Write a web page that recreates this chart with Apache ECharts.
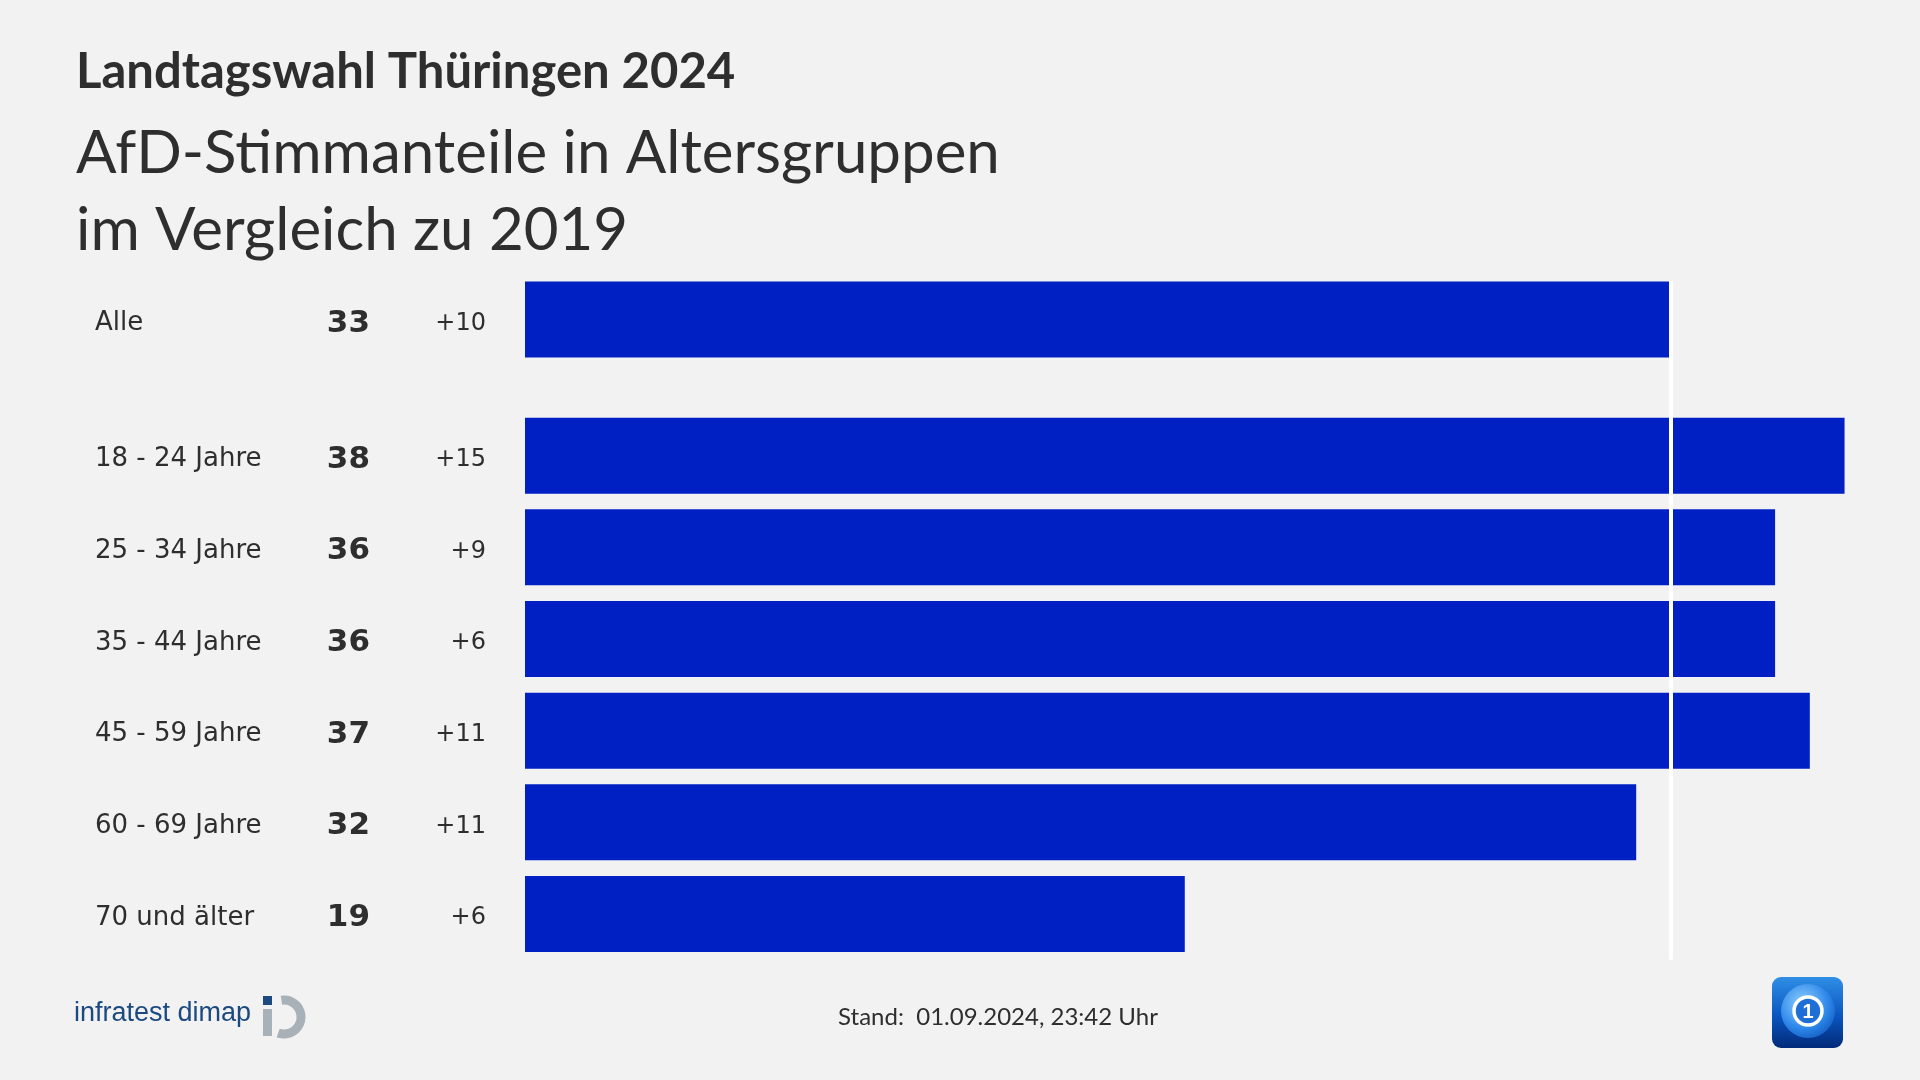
<!DOCTYPE html>
<html><head><meta charset="utf-8">
<script src="https://cdn.jsdelivr.net/npm/echarts@6/dist/echarts.min.js"></script>
<style>html,body{margin:0;padding:0;background:#f2f2f2;}#c{width:1920px;height:1080px;}</style>
</head><body><div id="c"></div>
<script>
// ---- data ----
const allLabels = ['Alle'];
const allValues = [33];
const allDeltas = ['+10'];
const groupLabels = ['18 - 24 Jahre', '25 - 34 Jahre', '35 - 44 Jahre', '45 - 59 Jahre', '60 - 69 Jahre', '70 und älter'];
const groupValues = [38, 36, 36, 37, 32, 19];
const groupDeltas = ['+15', '+9', '+6', '+11', '+11', '+6'];
const referenceValue = 33;
const axisMax = 40;

const titleText = 'Landtagswahl Thüringen 2024';
const subtitleLines = ['AfD-Stimmanteile in Altersgruppen', 'im Vergleich zu 2019'];
const footerText = 'Stand:  01.09.2024, 23:42 Uhr';
const sourceText = 'infratest dimap';

// ---- styles ----
const BAR = '#0020c4';
const TXT = '#2e2e2e';
const BG = '#f2f2f2';
const LABEL_FONT = "'DejaVu Sans', sans-serif";
const TITLE_FONT = "Lato, 'Open Sans', sans-serif";

// build category lists (group grid has a leading spacer band)
const groupCats = [''].concat(groupLabels);
const groupData = [null].concat(groupValues);

function richLabel(labels, values, deltas) {
  return function (val) {
    if (!val) return '';
    const i = labels.indexOf(val);
    return '{l|' + labels[i] + '}{v|' + values[i] + '}{d|' + deltas[i] + '}';
  };
}
const rich = {
  l: { width: 234, align: 'left', fontFamily: LABEL_FONT, fontSize: 26, color: TXT, padding: [8, 0, 0, 0] },
  v: { width: 41, align: 'right', fontFamily: LABEL_FONT, fontSize: 31, fontWeight: 'bold', color: TXT, padding: [8, 0, 0, 0] },
  d: { width: 116, align: 'right', fontFamily: LABEL_FONT, fontSize: 24, color: TXT, padding: [8, 0, 0, 0] }
};

function yAxisFor(gridIndex, cats, labels, values, deltas) {
  return {
    type: 'category', gridIndex: gridIndex, inverse: true, data: cats,
    axisLine: { show: false }, axisTick: { show: false }, splitLine: { show: false },
    axisLabel: { show: true, align: 'left', margin: 430, formatter: richLabel(labels, values, deltas), rich: rich }
  };
}
function xAxisFor(gridIndex) {
  return { type: 'value', gridIndex: gridIndex, min: 0, max: axisMax, show: false, splitLine: { show: false } };
}
const refLine = {
  silent: true, symbol: 'none', z: 10,
  label: { show: false },
  lineStyle: { color: '#ffffff', width: 4, type: 'solid' },
  emphasis: { disabled: true },
  data: [{ xAxis: referenceValue }]
};

const chart = echarts.init(document.getElementById('c'), null, { renderer: 'canvas' });
chart.setOption({
  backgroundColor: BG,
  animation: false,
  grid: [
    { left: 525, width: 1389, top: 281, height: 77 },
    { left: 525, width: 1389, top: 318.2, height: 641.6 }
  ],
  xAxis: [xAxisFor(0), xAxisFor(1)],
  yAxis: [
    yAxisFor(0, allLabels, allLabels, allValues, allDeltas),
    yAxisFor(1, groupCats, groupLabels, groupValues, groupDeltas)
  ],
  series: [
    { type: 'bar', xAxisIndex: 0, yAxisIndex: 0, data: allValues, barWidth: 76,
      itemStyle: { color: BAR }, silent: true, markLine: refLine },
    { type: 'bar', xAxisIndex: 1, yAxisIndex: 1, data: groupData, barWidth: 76,
      itemStyle: { color: BAR }, silent: true, markLine: refLine }
  ],
  graphic: [
    { type: 'text', silent: true, style: { x: 76, y: 72, text: titleText, fill: TXT, font: "bold 49px " + TITLE_FONT, align: 'left', verticalAlign: 'middle' } },
    { type: 'text', silent: true, style: { x: 76, y: 154, text: subtitleLines[0], fill: TXT, font: "60px " + TITLE_FONT, align: 'left', verticalAlign: 'middle' } },
    { type: 'text', silent: true, style: { x: 76, y: 231, text: subtitleLines[1], fill: TXT, font: "60px " + TITLE_FONT, align: 'left', verticalAlign: 'middle' } },
    { type: 'text', silent: true, style: { x: 998, y: 1017, text: footerText, fill: TXT, font: "24px " + TITLE_FONT, align: 'center', verticalAlign: 'middle' } },
    // infratest dimap logo
    { type: 'text', silent: true, style: { x: 74, y: 1014, text: sourceText, fill: '#1c4a80', font: "27px 'Liberation Sans', sans-serif", align: 'left', verticalAlign: 'middle' } },
    { type: 'rect', silent: true, shape: { x: 263, y: 996, width: 9, height: 9 }, style: { fill: '#1c4a80' } },
    { type: 'rect', silent: true, shape: { x: 263, y: 1009, width: 9, height: 27 }, style: { fill: '#a9b1b8' } },
    { type: 'arc', silent: true, shape: { cx: 284, cy: 1017, r: 17, startAngle: -Math.PI / 2 - 0.15, endAngle: Math.PI / 2 + 0.35, clockwise: true }, style: { stroke: '#a9b1b8', lineWidth: 9, fill: null } },
    // broadcaster logo
    { type: 'rect', silent: true, shape: { x: 1772, y: 977, width: 71, height: 71, r: 9 },
      style: { fill: new echarts.graphic.LinearGradient(0, 0, 0, 1, [{ offset: 0, color: '#2f8fe6' }, { offset: 0.55, color: '#0a55c0' }, { offset: 1, color: '#022a78' }]) } },
    { type: 'circle', silent: true, shape: { cx: 1808, cy: 1011, r: 27 },
      style: { fill: new echarts.graphic.RadialGradient(0.4, 0.35, 0.8, [{ offset: 0, color: '#8fd0ff' }, { offset: 0.6, color: '#2c86e8' }, { offset: 1, color: '#0c4fb4' }]) } },
    { type: 'circle', silent: true, shape: { cx: 1808, cy: 1011, r: 14 }, style: { fill: '#1d6fd6', stroke: '#ffffff', lineWidth: 3.5 } },
    { type: 'text', silent: true, style: { x: 1808, y: 1012, text: '1', fill: '#ffffff', font: "bold 20px 'Liberation Sans', sans-serif", align: 'center', verticalAlign: 'middle' } }
  ]
});
</script>
</body></html>
